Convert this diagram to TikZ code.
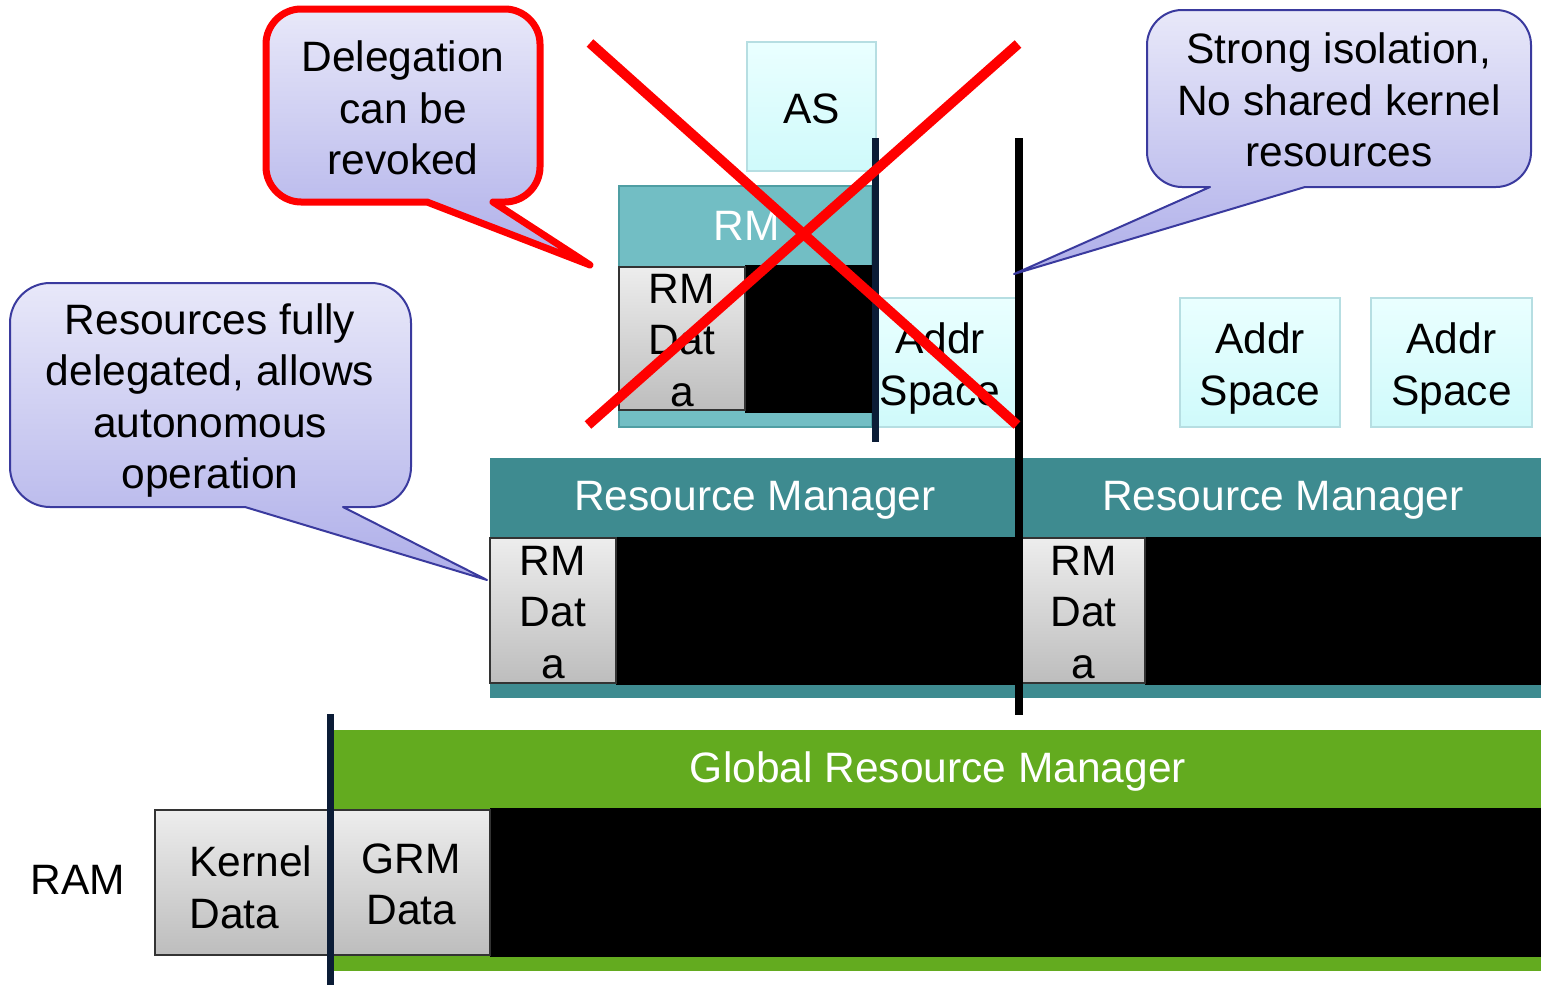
\documentclass[tikz,border=0pt]{standalone}
\usepackage{fontspec}
\setmainfont{Liberation Sans}

\definecolor{rmteal}{HTML}{3E8B90}
\definecolor{rmtealpale}{HTML}{72BEC4}
\definecolor{rmtealedge}{HTML}{4F9EA3}
\definecolor{grmgreen}{HTML}{63AB1F}
\definecolor{navyrule}{HTML}{0B1C36}
\definecolor{grayhi}{HTML}{EDEDED}
\definecolor{graylo}{HTML}{BDBDBD}
\definecolor{ashi}{HTML}{EAFFFF}
\definecolor{aslo}{HTML}{CFFAFB}
\definecolor{asedge}{HTML}{B6DEE2}
\definecolor{callhi}{HTML}{E8E8F9}
\definecolor{calllo}{HTML}{AEAEE9}
\definecolor{calledge}{HTML}{3A3A9E}
\definecolor{crossred}{HTML}{FF0000}

\begin{document}
\begin{tikzpicture}[
  x=1pt, y=-1pt,
  font=\fontsize{42.5}{51.5}\selectfont,
  box/.style={rectangle, inner sep=0pt, outer sep=0pt},
  datacell/.style={box, draw=black!80, line width=1.5pt, top color=grayhi, bottom color=graylo},
  addrcell/.style={box, draw=asedge, line width=2pt, top color=ashi, bottom color=aslo},
  celltext/.style={align=center, inner sep=0pt},
  bartitle/.style={text=white, inner sep=0pt},
  callout/.style={top color=callhi, bottom color=calllo, draw=calledge, line width=2pt, line join=round},
  crossline/.style={draw=crossred, line width=10pt},
  navyline/.style={draw=navyrule, line width=7pt},
  blackline/.style={draw=black, line width=8pt},
]
\useasboundingbox (0,0) rectangle (1541,985);

% ---- Global resource manager and RAM ----
\node[box, fill=grmgreen, minimum width=1208, minimum height=241] (grm) at (937,850.5) {};
\node[box, fill=black, minimum width=1051, minimum height=149] (grmfree) at (1015.5,882.5) {};
\node[datacell, minimum width=157, minimum height=145] (grmdata) at (411.5,882.5) {};
\node[celltext] (grmdatatext) at ([yshift=-2pt]grmdata.center) {GRM\\Data};
\node[datacell, minimum width=175, minimum height=145] (kdata) at (242.5,882.5) {};
\node[celltext, align=left] (kdatatext) at (251,887.5) {Kernel\\Data};
\node[bartitle] (grmtitle) at (938,772) {Global Resource Manager};
\node (ram) at (78,880) {RAM};
\draw[navyline] (330,714) -- (330,985);

% ---- Two resource managers ----
\node[box, fill=rmteal, minimum width=527, minimum height=240] (rmL) at (753.5,578) {};
\node[box, fill=black, minimum width=401, minimum height=148] (rmLfree) at (816.5,611) {};
\node[datacell, minimum width=126, minimum height=145] (rmLdata) at (553,610.5) {};
\node[celltext] (rmLdatatext) at ([yshift=-2pt]rmLdata.center) {RM\\Dat\\a};
\node[bartitle] (rmLtitle) at (755,500) {Resource Manager};

\node[box, fill=rmteal, minimum width=524, minimum height=240] (rmR) at (1279,578) {};
\node[box, fill=black, minimum width=396, minimum height=148] (rmRfree) at (1343,611) {};
\node[datacell, minimum width=123, minimum height=145] (rmRdata) at (1083.5,610.5) {};
\node[celltext] (rmRdatatext) at ([yshift=-2pt]rmRdata.center) {RM\\Dat\\a};
\node[bartitle] (rmRtitle) at (1283,500) {Resource Manager};

% ---- Nested resource manager (revoked) ----
\node[box, fill=rmtealpale, draw=rmtealedge, line width=2pt, minimum width=253, minimum height=241] (rmU) at (745.5,306.5) {};
\node[box, fill=black, minimum width=127, minimum height=148] (rmUfree) at (808.5,339) {};
\node[datacell, minimum width=126, minimum height=143] (rmUdata) at (682,338.5) {};
\node[celltext] (rmUdatatext) at ([yshift=-2pt]rmUdata.center) {RM\\Dat\\a};
\node[bartitle] (rmUtitle) at (747,226) {RM};
\node[addrcell, minimum width=129, minimum height=129] (as) at (811.5,106.5) {};
\node[celltext] (astext) at ([yshift=-2pt]as.center) {AS};
\node[addrcell, minimum width=142, minimum height=129] (addrA) at (946,362.5) {};
\node[celltext] (addrAtext) at (940,368.5) {Addr\\Space};

% ---- Address spaces on the right ----
\node[addrcell, minimum width=160, minimum height=129] (addrB) at (1260,362.5) {};
\node[celltext] (addrBtext) at ([yshift=-6pt]addrB.center) {Addr\\Space};
\node[addrcell, minimum width=161, minimum height=129] (addrC) at (1451.5,362.5) {};
\node[celltext] (addrCtext) at ([yshift=-6pt]addrC.center) {Addr\\Space};

% ---- Isolation boundaries ----
\draw[navyline] (875,138) -- (875,442);
\draw[blackline] (1019,138) -- (1019,715);

% ---- Callouts ----
\path[callout, draw=crossred, line width=7pt]
  (493,202) -- (590,265) -- (427,202) -- (301,202)
  .. controls (282,202) and (266,186) .. (266,167) -- (266,44)
  .. controls (266,25) and (282,9) .. (301,9) -- (505,9)
  .. controls (524,9) and (540,25) .. (540,44) -- (540,167)
  .. controls (540,186) and (524,202) .. (505,202) -- cycle;
\node[align=center] (revoke) at (403,108) {Delegation\\can be\\revoked};

\path[callout]
  (1210,187) -- (1014,274) -- (1305,187) -- (1496,187)
  .. controls (1515,187) and (1531,171) .. (1531,152) -- (1531,45)
  .. controls (1531,26) and (1515,10) .. (1496,10) -- (1182,10)
  .. controls (1163,10) and (1147,26) .. (1147,45) -- (1147,152)
  .. controls (1147,171) and (1163,187) .. (1182,187) -- cycle;
\node[align=center] (isolation) at (1339,100) {Strong isolation,\\No shared kernel\\resources};

\path[callout]
  (245,507) -- (487,580) -- (343,507) -- (371,507)
  .. controls (393,507) and (411,489) .. (411,467) -- (411,323)
  .. controls (411,301) and (393,283) .. (371,283) -- (50,283)
  .. controls (28,283) and (10,301) .. (10,323) -- (10,467)
  .. controls (10,489) and (28,507) .. (50,507) -- cycle;
\node[align=center] (delegated) at (210,400.5) {Resources fully\\delegated, allows\\autonomous\\operation};

% ---- Revocation cross ----
\draw[crossline] (590,43) -- (1017,425);
\draw[crossline] (1018,44) -- (588,425);
\end{tikzpicture}
\end{document}
